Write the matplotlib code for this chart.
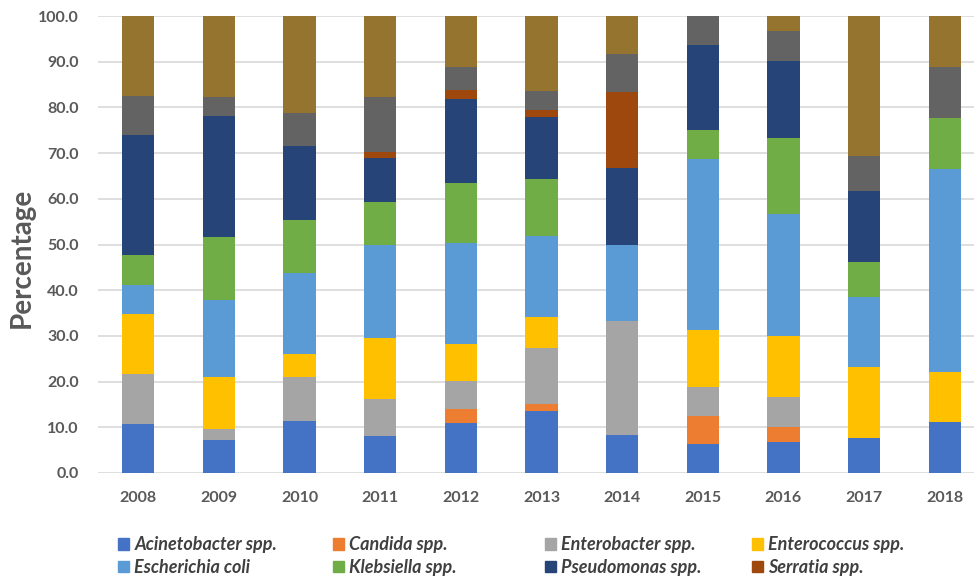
import numpy as np
import matplotlib
matplotlib.use("Agg")
import matplotlib.pyplot as plt
from matplotlib.patches import Patch

plt.rcParams["font.family"] = ["Lato", "DejaVu Sans"]

years = ["2008", "2009", "2010", "2011", "2012", "2013",
         "2014", "2015", "2016", "2017", "2018"]

# percentage of isolates per organism, stacked bottom -> top
acinetobacter = [10.8, 7.2, 11.3, 8.1, 10.9, 13.6, 8.3, 6.25, 6.7, 7.7, 11.1]
candida       = [0.0, 0.0, 0.0, 0.0, 3.2, 1.4, 0.0, 6.25, 3.3, 0.0, 0.0]
enterobacter  = [10.8, 2.4, 9.6, 8.0, 6.0, 12.4, 25.0, 6.25, 6.7, 0.0, 0.0]
enterococcus  = [13.1, 11.3, 5.2, 13.5, 8.2, 6.8, 0.0, 12.5, 13.3, 15.4, 11.1]
e_coli        = [6.5, 16.9, 17.7, 20.3, 22.1, 17.7, 16.7, 37.5, 26.7, 15.4, 44.4]
klebsiella    = [6.5, 13.8, 11.5, 9.5, 13.1, 12.4, 0.0, 6.25, 16.7, 7.7, 11.1]
pseudomonas   = [26.2, 26.6, 16.2, 9.5, 18.3, 13.7, 16.7, 18.75, 16.7, 15.4, 0.0]
serratia      = [0.0, 0.0, 0.0, 1.4, 2.0, 1.4, 16.7, 0.0, 0.0, 0.0, 0.0]
# two more series are stacked on top, their legend entries are cut off in the source
unlisted_gray  = [8.5, 4.0, 7.3, 12.0, 5.1, 4.1, 8.3, 6.25, 6.7, 7.7, 11.1]
unlisted_olive = [17.6, 17.8, 21.2, 17.7, 11.1, 16.5, 8.3, 0.0, 3.2, 30.7, 11.2]

series = [
    ("Acinetobacter spp.", acinetobacter, "#4472C4"),
    ("Candida spp.", candida, "#ED7D31"),
    ("Enterobacter spp.", enterobacter, "#A5A5A5"),
    ("Enterococcus spp.", enterococcus, "#FFC000"),
    ("Escherichia coli", e_coli, "#5B9BD5"),
    ("Klebsiella spp.", klebsiella, "#70AD47"),
    ("Pseudomonas spp.", pseudomonas, "#264478"),
    ("Serratia spp.", serratia, "#9E480E"),
    (None, unlisted_gray, "#636363"),
    (None, unlisted_olive, "#957430"),
]

W, H = 974, 581
fig = plt.figure(figsize=(W / 100, H / 100), dpi=100)
ax = fig.add_axes([98 / W, (H - 473) / H, (985 - 98) / W, (473 - 16) / H])

x = np.arange(len(years))
bottom = np.zeros(len(years))
for name, vals, col in series:
    vals = np.array(vals)
    ax.bar(x, vals, 0.4, bottom=bottom, color=col, zorder=3)
    bottom += vals

ax.set_xlim(-0.5, len(years) - 0.5)
ax.set_ylim(0, 100)
ax.set_yticks(np.arange(0, 101, 10))
ax.set_yticklabels([f"{v:.1f}" for v in np.arange(0, 101, 10)])
ax.set_xticks(x)
ax.set_xticklabels(years)
for s in ax.spines.values():
    s.set_visible(False)
ax.grid(axis="y", color="#D9D9D9", lw=1.2, zorder=0)
ax.tick_params(axis="both", length=0, labelsize=11.5, colors="#595959")
ax.tick_params(axis="y", pad=14)
ax.tick_params(axis="x", pad=13)
for lab in ax.get_xticklabels() + ax.get_yticklabels():
    lab.set_fontweight("bold")

fig.text(22 / W, 1 - 258 / H, "Percentage", rotation=90, ha="center", va="center",
         fontsize=20, fontweight="bold", color="#595959")

# legend: 4 columns x 2 rows, Excel-style fixed column positions
named = [(n, c) for n, v, c in series if n]
col_x = [118, 333, 545, 752]
for i, cx in enumerate(col_x):
    items = [named[i], named[i + 4]]
    handles = [Patch(color=c, label=n) for n, c in items]
    leg = fig.legend(handles=handles, loc="center left",
                     bbox_to_anchor=(cx / W, 1 - 556 / H), frameon=False,
                     borderpad=0, borderaxespad=0, handlelength=0.6,
                     handleheight=0.6, handletextpad=0.3, labelspacing=0.3,
                     prop={"size": 13, "style": "italic", "weight": "bold"})
    for t in leg.get_texts():
        t.set_color("#404040")

fig.savefig("out.png", dpi=100)
